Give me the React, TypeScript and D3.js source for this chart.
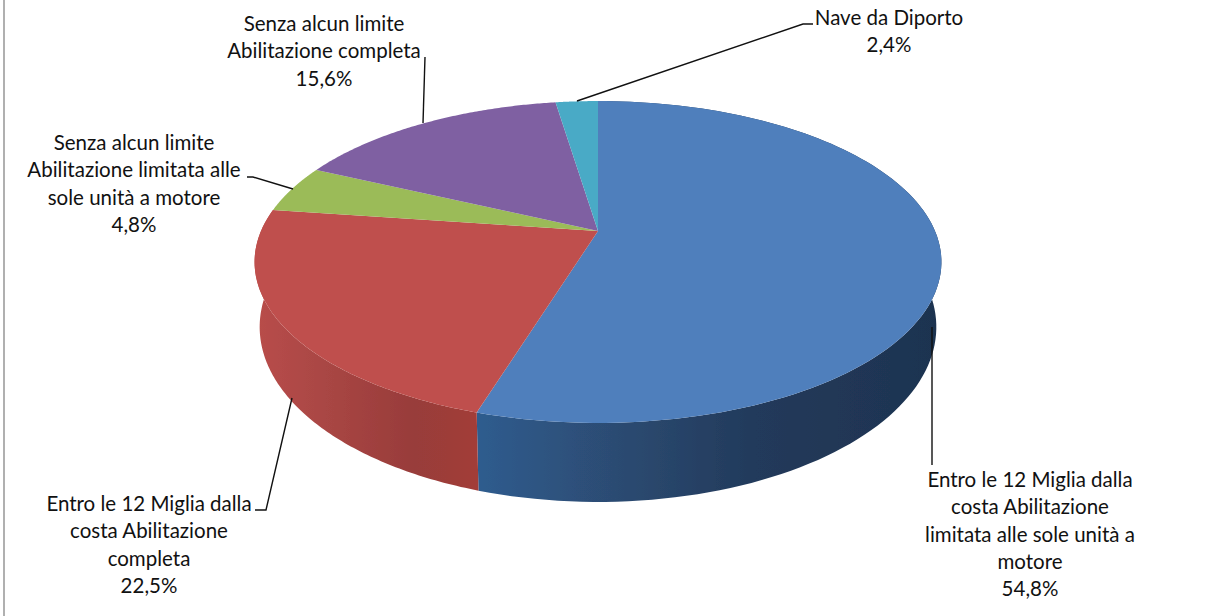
import React from "react";
import * as d3 from "d3";

const categories = [
  "Entro le 12 Miglia dalla costa Abilitazione limitata alle sole unità a motore",
  "Entro le 12 Miglia dalla costa Abilitazione completa",
  "Senza alcun limite Abilitazione limitata alle sole unità a motore",
  "Senza alcun limite Abilitazione completa",
  "Nave da Diporto",
];
const values = [54.8, 22.5, 4.8, 15.6, 2.4];
const valueLabels = ["54,8%", "22,5%", "4,8%", "15,6%", "2,4%"];
const topColors = ["#4f7fbc", "#bf504d", "#9bbb59", "#7f60a2", "#4aaac6"];
const labelLines = [
  ["Entro le 12 Miglia dalla", "costa Abilitazione", "limitata alle sole unità a", "motore", "54,8%"],
  ["Entro le 12 Miglia dalla", "costa Abilitazione", "completa", "22,5%"],
  ["Senza alcun limite", "Abilitazione limitata alle", "sole unità a motore", "4,8%"],
  ["Senza alcun limite", "Abilitazione completa", "15,6%"],
  ["Nave da Diporto", "2,4%"],
];
const labelAnchors = [
  { x: 1030, y: 487 },
  { x: 149, y: 511 },
  { x: 134, y: 150 },
  { x: 324, y: 31 },
  { x: 889, y: 25 },
];
const leaders: [number, number][][] = [
  [[932, 327], [932, 465]],
  [[292, 398], [266, 510], [255, 510]],
  [[293, 189], [253, 177], [247, 177]],
  [[423, 123], [425, 57]],
  [[577, 101], [803, 24], [813, 24]],
];

const CX = 598;
const P = 0.1925;
type Disc = { s: number; y0: number; b: number };
const topDisc: Disc = { s: 337, y0: 231, b: -110.5 };
const baseDisc: Disc = { s: 332, y0: 293.3, b: -112 };

const project = (d: Disc, angle: number): [number, number] => {
  const u = Math.sin(angle);
  const v = Math.cos(angle);
  const w = 1 + P * v;
  return [CX + (d.s * u) / w, (d.y0 + d.b * v) / w];
};
const arcPoints = (d: Disc, a0: number, a1: number) =>
  d3.range(0, 121).map((i) => project(d, a0 + ((a1 - a0) * i) / 120));

const line = d3.line();
const slices = d3.pie<number>().sort(null)(values);

const sideStops = [
  [
    { o: 0, c: "#2f5c8e" },
    { o: 0.3, c: "#2c4b72" },
    { o: 0.6, c: "#223a5b" },
    { o: 1, c: "#1e3350" },
  ],
  [
    { o: 0, c: "#b84d4a" },
    { o: 0.3, c: "#a94644" },
    { o: 0.7, c: "#983c3a" },
    { o: 1, c: "#a33c38" },
  ],
];

export default function App() {
  return (
    <svg
      width={1208}
      height={616}
      style={{ position: "absolute", left: 0, top: 0, background: "#fff" }}
      fontFamily="Lato"
      fontSize={20.5}
    >
      <defs>
        {sideStops.map((stops, i) => (
          <linearGradient
            key={i}
            id={`side${i}`}
            gradientUnits="userSpaceOnUse"
            x1={i === 0 ? 478 : 258}
            x2={i === 0 ? 940 : 482}
            y1={0}
            y2={0}
          >
            {stops.map((s) => (
              <stop key={s.o} offset={s.o} stopColor={s.c} />
            ))}
          </linearGradient>
        ))}
        <filter id="soft" x="-5%" y="-5%" width="110%" height="110%">
          <feGaussianBlur stdDeviation={0.7} />
        </filter>
      </defs>
      <line x1={4} x2={4} y1={0} y2={616} stroke="#b0b0b0" strokeWidth={2} />
      <g filter="url(#soft)">
        {slices.slice(0, 2).map((s, i) => {
          const top = arcPoints(topDisc, s.startAngle, s.endAngle);
          const base = arcPoints(baseDisc, s.startAngle, s.endAngle).reverse();
          return <path key={i} d={line([...top, ...base]) + "Z"} fill={`url(#side${i})`} />;
        })}
        {slices.map((s, i) => {
          const pts = arcPoints(topDisc, s.startAngle, s.endAngle);
          const apex: [number, number] = [CX, topDisc.y0];
          return <path key={i} d={line([apex, ...pts]) + "Z"} fill={topColors[i]} />;
        })}
      </g>
      {leaders.map((l, i) => (
        <path key={i} d={line(l)!} fill="none" stroke="#111" strokeWidth={1.4} />
      ))}
      {labelLines.map((ls, i) => (
        <text key={i} textAnchor="middle" fill="#111" aria-label={`${categories[i]} ${valueLabels[i]}`}>
          {ls.map((t, j) => (
            <tspan key={j} x={labelAnchors[i].x} y={labelAnchors[i].y + j * 27.3}>
              {t}
            </tspan>
          ))}
        </text>
      ))}
    </svg>
  );
}
